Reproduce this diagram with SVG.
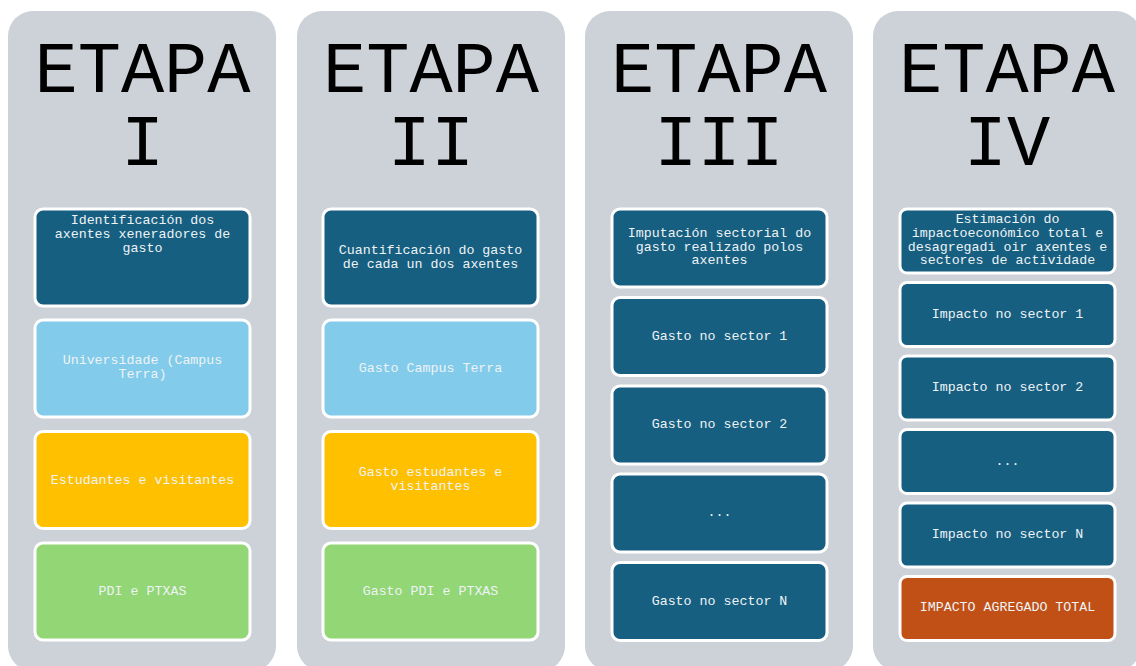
<svg xmlns="http://www.w3.org/2000/svg" width="1136" height="666" viewBox="0 0 1136 666">
<style>
.panel{fill:#CDD1D8}
.title{font-family:"Liberation Mono",monospace;font-size:72px;fill:#000;text-anchor:middle}
.box{stroke:#fff;stroke-width:3}
.dk{fill:#175F80}
.lb{fill:#82CBEA}
.yl{fill:#FFC000}
.gr{fill:#92D675}
.or{fill:#C05016}
.t{font-family:"Liberation Mono",monospace;font-size:13.3px;fill:#EEF3F6;text-anchor:middle}
</style>
<rect width="1136" height="666" fill="#fff"/>
<g id="etapa1">
<rect class="panel" x="8" y="11" width="268" height="660" rx="25"/>
<text class="title" x="142.5" y="92">ETAPA</text>
<text class="title" x="142.5" y="165">I</text>
<g id="e1b1"><rect class="box dk" x="35" y="209" width="215" height="97" rx="8"/>
<text class="t" x="142.5" y="224">Identificación dos</text><text class="t" x="142.5" y="238">axentes xeneradores de</text><text class="t" x="142.5" y="252">gasto</text></g>
<g id="e1b2"><rect class="box lb" x="35" y="320" width="215" height="97" rx="8"/>
<text class="t" x="142.5" y="364">Universidade (Campus</text><text class="t" x="142.5" y="378">Terra)</text></g>
<g id="e1b3"><rect class="box yl" x="35" y="431.5" width="215" height="97" rx="8"/>
<text class="t" x="142.5" y="484">Estudantes e visitantes</text></g>
<g id="e1b4"><rect class="box gr" x="35" y="543" width="215" height="97" rx="8"/>
<text class="t" x="142.5" y="595">PDI e PTXAS</text></g>
</g>
<g id="etapa2">
<rect class="panel" x="297" y="11" width="268" height="660" rx="25"/>
<text class="title" x="431" y="92">ETAPA</text>
<text class="title" x="431" y="165">II</text>
<g id="e2b1"><rect class="box dk" x="323" y="209" width="215" height="97" rx="8"/>
<text class="t" x="430.5" y="254">Cuantificación do gasto</text><text class="t" x="430.5" y="268">de cada un dos axentes</text></g>
<g id="e2b2"><rect class="box lb" x="323" y="320" width="215" height="97" rx="8"/>
<text class="t" x="430.5" y="372">Gasto Campus Terra</text></g>
<g id="e2b3"><rect class="box yl" x="323" y="431.5" width="215" height="97" rx="8"/>
<text class="t" x="430.5" y="476">Gasto estudantes e</text><text class="t" x="430.5" y="490">visitantes</text></g>
<g id="e2b4"><rect class="box gr" x="323" y="543" width="215" height="97" rx="8"/>
<text class="t" x="430.5" y="595">Gasto PDI e PTXAS</text></g>
</g>
<g id="etapa3">
<rect class="panel" x="585" y="11" width="268" height="660" rx="25"/>
<text class="title" x="719" y="92">ETAPA</text>
<text class="title" x="719" y="165">III</text>
<g id="e3b1"><rect class="box dk" x="612" y="209" width="215" height="78" rx="8"/>
<text class="t" x="719.5" y="237">Imputación sectorial do</text><text class="t" x="719.5" y="250.5">gasto realizado polos</text><text class="t" x="719.5" y="264">axentes</text></g>
<g id="e3b2"><rect class="box dk" x="612" y="297.5" width="215" height="78" rx="8"/>
<text class="t" x="719.5" y="340">Gasto no sector 1</text></g>
<g id="e3b3"><rect class="box dk" x="612" y="386" width="215" height="78" rx="8"/>
<text class="t" x="719.5" y="428">Gasto no sector 2</text></g>
<g id="e3b4"><rect class="box dk" x="612" y="474" width="215" height="78" rx="8"/>
<text class="t" x="719.5" y="516">...</text></g>
<g id="e3b5"><rect class="box dk" x="612" y="562.5" width="215" height="78" rx="8"/>
<text class="t" x="719.5" y="605">Gasto no sector N</text></g>
</g>
<g id="etapa4">
<rect class="panel" x="873" y="11" width="268" height="660" rx="25"/>
<text class="title" x="1007" y="92">ETAPA</text>
<text class="title" x="1007" y="165">IV</text>
<g id="e4b1"><rect class="box dk" x="900" y="209" width="215" height="64" rx="7"/>
<text class="t" x="1007.5" y="223">Estimación do</text><text class="t" x="1007.5" y="236.5">impactoeconómico total e</text><text class="t" x="1007.5" y="250.5">desagregadi oir axentes e</text><text class="t" x="1007.5" y="264">sectores de actividade</text></g>
<g id="e4b2"><rect class="box dk" x="900" y="282.5" width="215" height="64" rx="7"/>
<text class="t" x="1007.5" y="318">Impacto no sector 1</text></g>
<g id="e4b3"><rect class="box dk" x="900" y="356" width="215" height="64" rx="7"/>
<text class="t" x="1007.5" y="391">Impacto no sector 2</text></g>
<g id="e4b4"><rect class="box dk" x="900" y="429.5" width="215" height="64" rx="7"/>
<text class="t" x="1007.5" y="465">...</text></g>
<g id="e4b5"><rect class="box dk" x="900" y="503" width="215" height="64" rx="7"/>
<text class="t" x="1007.5" y="538">Impacto no sector N</text></g>
<g id="e4b6"><rect class="box or" x="900" y="576.5" width="215" height="64" rx="7"/>
<text class="t" x="1007.5" y="611">IMPACTO AGREGADO TOTAL</text></g>
</g>
<g id="connectors"></g>
</svg>
